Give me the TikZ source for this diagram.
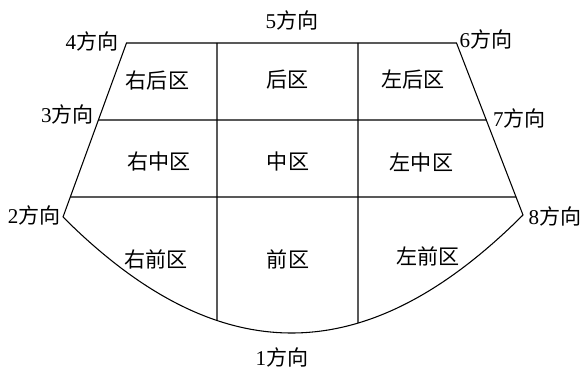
\documentclass[tikz,border=0pt]{standalone}
\usepackage{fontspec}
\setmainfont{Liberation Serif}
\newfontfamily\cjk{Noto Sans CJK SC}
\usetikzlibrary{intersections,calc}
\begin{document}
\begin{tikzpicture}[x=0.75pt,y=-0.75pt,line width=0.8pt,
  zone/.style={inner sep=0pt,font=\cjk\fontsize{15.8}{18}\selectfont},
  dirlab/.style={inner sep=0pt,font=\fontsize{15.8}{18}\selectfont}]
\useasboundingbox (0,0) rectangle (582,370);
% corners
\coordinate (c4) at (126.5,43);
\coordinate (c6) at (456.5,43);
\coordinate (c2) at (63,217);
\coordinate (c8) at (523,215);
\coordinate (c3) at ($(c4)!0.4425!(c2)$);
\coordinate (l2) at ($(c4)!0.885!(c2)$);
\coordinate (c7) at ($(c6)!0.4477!(c8)$);
\coordinate (r2) at ($(c6)!0.8953!(c8)$);
\coordinate (t1) at (217,43);
\coordinate (t2) at (358,43);
% outline
\draw (c2) -- (c4) -- (c6) -- (c8);
\draw[name path=front] (c2) .. controls (219,373) and (367,371) .. (c8);
% horizontal dividers
\draw (c3) -- (c7);
\draw (l2) -- (r2);
% vertical dividers
\path[name path=v1] (t1) -- ++(0,320);
\path[name path=v2] (t2) -- ++(0,320);
\path[name intersections={of=v1 and front,by=b1}];
\path[name intersections={of=v2 and front,by=b2}];
\draw (t1) -- (b1);
\draw (t2) -- (b2);
% zone labels
\node[zone] (rb) at (157.5,81) {右后区};
\node[zone] (b)  at (287.5,80) {后区};
\node[zone] (lb) at (413,80) {左后区};
\node[zone] (rm) at (159,162) {右中区};
\node[zone] (m)  at (288,161) {中区};
\node[zone] (lm) at (421.5,162) {左中区};
\node[zone] (rf) at (156,259) {右前区};
\node[zone] (f)  at (288,259) {前区};
\node[zone] (lf) at (428,256) {左前区};
% direction labels
\node[dirlab] (d1) at (282,357) {1{\cjk 方向}};
\node[dirlab,anchor=east] (d2) at (61,215) {2{\cjk 方向}};
\node[dirlab] (d3) at (67.5,114.5) {3{\cjk 方向}};
\node[dirlab] (d4) at (92,41.5) {4{\cjk 方向}};
\node[dirlab] (d5) at (292,20) {5{\cjk 方向}};
\node[dirlab] (d6) at (486,39.5) {6{\cjk 方向}};
\node[dirlab] (d7) at (519.5,118) {7{\cjk 方向}};
\node[dirlab,anchor=west] (d8) at (528,216.5) {8{\cjk 方向}};
\end{tikzpicture}
\end{document}
